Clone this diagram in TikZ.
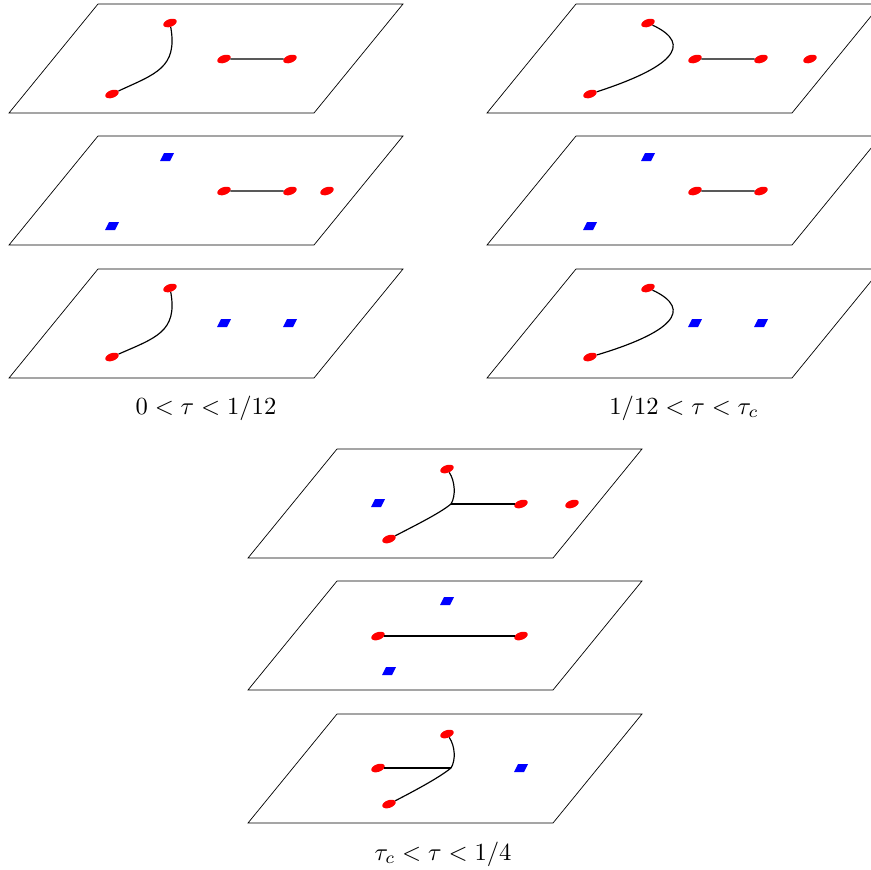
\documentclass[tikz,border=0pt]{standalone}
\usepackage{amsmath}
\usepackage{tikz}
\usetikzlibrary{shapes.geometric}

\tikzset{
  plane/.style={draw=black, line width=0.6pt},
  link/.style={draw=black, line width=1pt},
  reddot/.style={ellipse, fill=red, inner sep=0pt, minimum width=4.2mm, minimum height=2.3mm, rotate=20},
  label/.style={scale=2.1}
}
\newcommand{\sheet}[2]{\draw[plane] (#1,#2+109) -- ++(305,0) -- ++(89,-109) -- ++(-305,0) -- cycle;}
\newcommand{\bluesq}[2]{\fill[blue] (#1-7,#2+4) -- ++(10,0) -- ++(4,-8) -- ++(-10,0) -- cycle;}

\begin{document}
\begin{tikzpicture}[x=0.3mm,y=-0.3mm]
            \useasboundingbox (0,0) rectangle (871,869);
            \clip (0,0) rectangle (871,869);
            \foreach \x/\y in {9/4, 9/136, 9/269, 487/4, 487/136, 487/269, 248/449, 248/581, 248/714}
                {\sheet{\x}{\y}}

            % 0 < tau < 1/12
            \node[reddot] (la1) at (170,23) {};
            \node[reddot] (la2) at (112,94) {};
            \node[reddot] (la3) at (224,59) {};
            \node[reddot] (la4) at (290,59) {};
            \draw[link] (la2) .. controls (155,74) and (178,68) .. (la1);
            \draw[link] (la3) -- (la4);

            \bluesq{167}{157}
            \bluesq{112}{226}
            \node[reddot] (lb1) at (224,191) {};
            \node[reddot] (lb2) at (290,191) {};
            \node[reddot] (lb3) at (327,191) {};
            \draw[link] (lb1) -- (lb2);

            \node[reddot] (lc1) at (170,288) {};
            \node[reddot] (lc2) at (112,357) {};
            \bluesq{224}{323}
            \bluesq{290}{323}
            \draw[link] (lc2) .. controls (155,338) and (178,332) .. (lc1);

            \node[label] (lablft) at (206,408) {$0<\tau<1/12$};

            % 1/12 < tau < tau_c
            \node[reddot] (ra1) at (648,23) {};
            \node[reddot] (ra2) at (590,94) {};
            \node[reddot] (ra3) at (695,59) {};
            \node[reddot] (ra4) at (761,59) {};
            \node[reddot] (ra5) at (810,59) {};
            \draw[link] (ra2) .. controls (670,68) and (695,45) .. (ra1);
            \draw[link] (ra3) -- (ra4);

            \bluesq{648}{157}
            \bluesq{590}{226}
            \node[reddot] (rb1) at (695,191) {};
            \node[reddot] (rb2) at (761,191) {};
            \draw[link] (rb1) -- (rb2);

            \node[reddot] (rc1) at (648,288) {};
            \node[reddot] (rc2) at (590,357) {};
            \bluesq{695}{323}
            \bluesq{761}{323}
            \draw[link] (rc2) .. controls (670,333) and (695,310) .. (rc1);

            \node[label] (labrgt) at (684,408) {$1/12<\tau<\tau_c$};

            % tau_c < tau < 1/4
            \coordinate (j1) at (451,504);
            \node[reddot] (ba1) at (447,469) {};
            \node[reddot] (ba2) at (389,539) {};
            \node[reddot] (ba3) at (521,504) {};
            \node[reddot] (ba4) at (572,504) {};
            \bluesq{378}{503}
            \draw[link] (ba1) .. controls (455,481) and (456,496) .. (j1);
            \draw[link] (ba2) .. controls (418,524) and (440,513) .. (j1);
            \draw[link] (j1) -- (ba3);

            \bluesq{447}{601}
            \bluesq{389}{671}
            \node[reddot] (bb1) at (378,636) {};
            \node[reddot] (bb2) at (521,636) {};
            \draw[link] (bb1) -- (bb2);

            \coordinate (j2) at (451,768);
            \node[reddot] (bc1) at (447,734) {};
            \node[reddot] (bc2) at (389,804) {};
            \node[reddot] (bc3) at (378,768) {};
            \bluesq{521}{768}
            \draw[link] (bc1) .. controls (455,746) and (456,760) .. (j2);
            \draw[link] (bc2) .. controls (418,789) and (440,777) .. (j2);
            \draw[link] (bc3) -- (j2);

            \node[label] (labbot) at (443,854) {$\tau_c<\tau<1/4$};
        \end{tikzpicture}
\end{document}
